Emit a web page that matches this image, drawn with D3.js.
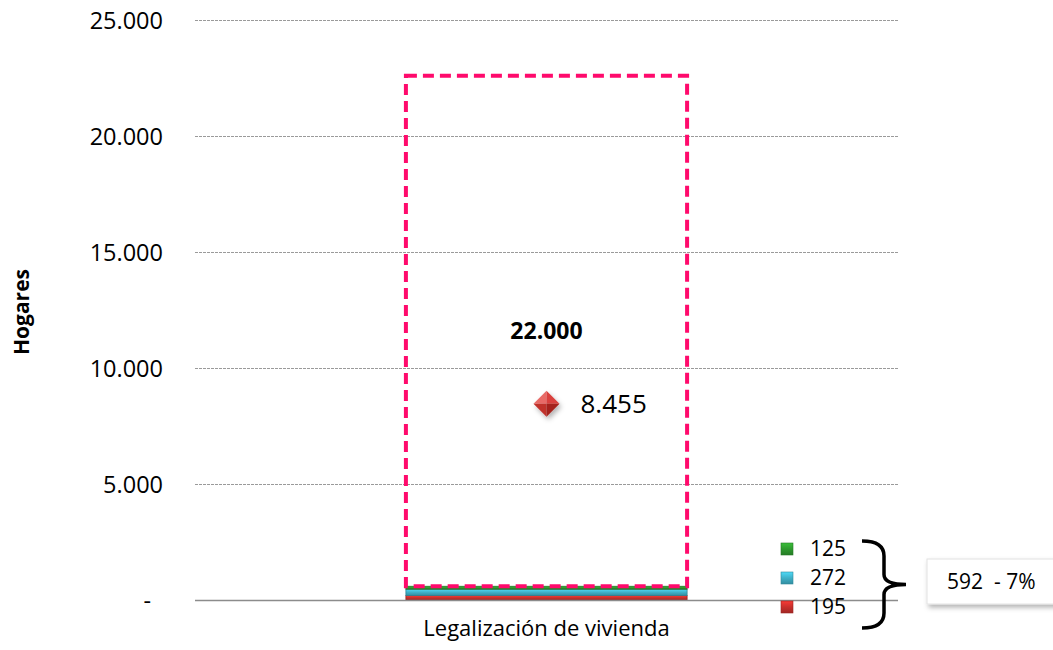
<!DOCTYPE html>
<html>
<head>
<meta charset="utf-8">
<script src="https://cdn.jsdelivr.net/npm/d3@7"></script>
<style>
  body { margin: 0; background: #fff; }
  text { font-family: "Open Sans", "Liberation Sans", sans-serif; fill: #000; }
</style>
</head>
<body>
<svg id="chart" width="1053" height="650"></svg>
<script>
// data
var categories = ['Legalización de vivienda'];
var segmentNames = ['Rojo', 'Azul', 'Verde', 'Meta'];
var segmentValues = [195, 272, 125, 22000];
var segmentColors = ['#c8302c', '#3fb0c8', '#2f9a2f', 'none'];
var markerValue = 8455;
var legendValues = [125, 272, 195];
var legendColors = ['#2f9a2f', '#3fb0c8', '#c8302c'];
var summaryLabel = '592  - 7%';
var yTicks = [0, 5000, 10000, 15000, 20000, 25000];

var svg = d3.select('#chart');
var width = +svg.attr('width');
var height = +svg.attr('height');

var padding = { top: 20, right: 155, bottom: 50, left: 195 };

var loc = d3.formatLocale({ decimal: ',', thousands: '.', grouping: [3], currency: ['$', ''] });
var fmt = loc.format(',.0f');

var xScale = d3.scaleBand()
                .domain(categories)
                .range([padding.left, width - padding.right])
                .paddingInner(0.4286)
                .paddingOuter(0.4286);

var yScale = d3.scaleLinear()
                .domain([0, 25000])
                .range([height - padding.bottom, padding.top]);

var defs = svg.append('defs');

function addGrad(id, c) {
    var g = defs.append('linearGradient').attr('id', id)
                .attr('x1', 0).attr('y1', 0).attr('x2', 0).attr('y2', 1);
    g.append('stop').attr('offset', '0%').attr('stop-color', d3.color(c).brighter(0.6));
    g.append('stop').attr('offset', '50%').attr('stop-color', c);
    g.append('stop').attr('offset', '100%').attr('stop-color', d3.color(c).darker(0.6));
}
segmentColors.forEach((c, i) => { if (c !== 'none') addGrad('seg' + i, c); });
legendColors.forEach((c, i) => addGrad('leg' + i, c));

var shadow = defs.append('filter').attr('id', 'shadow')
                .attr('x', '-30%').attr('y', '-30%').attr('width', '170%').attr('height', '170%');
shadow.append('feDropShadow').attr('dx', 2).attr('dy', 3).attr('stdDeviation', 2.5)
        .attr('flood-color', '#000').attr('flood-opacity', 0.3);

// gridlines
svg.append('g')
    .selectAll('line')
    .data(yTicks.filter(d => d > 0))
    .enter()
    .append('line')
        .attr('x1', padding.left)
        .attr('x2', width - padding.right)
        .attr('y1', d => yScale(d) + 0.5)
        .attr('y2', d => yScale(d) + 0.5)
        .attr('stroke', '#9a9a9a')
        .attr('stroke-width', 1)
        .attr('stroke-dasharray', '3,1');

// y axis labels
var yAxis = d3.axisLeft(yScale)
                .tickValues(yTicks)
                .tickSize(0)
                .tickPadding(32)
                .tickFormat(d => d === 0 ? '-' : fmt(d));

var yG = svg.append('g')
    .attr('transform', `translate(${padding.left}, 0)`)
    .call(yAxis);
yG.select('.domain').remove();
yG.selectAll('text')
    .style('font-family', '"Open Sans", "Liberation Sans", sans-serif')
    .style('font-size', '23.5px')
    .attr('dy', '0.35em');
yG.selectAll('.tick')
    .filter(d => d === 0)
    .select('text')
    .attr('dx', -12);

// stacked bar
var stackData = [];
var base = 0;
segmentValues.forEach((v, i) => {
    stackData.push({ name: segmentNames[i], y0: base, y1: base + v, i: i });
    base += v;
});

var bw = xScale.bandwidth();
var bx = xScale(categories[0]);

svg.append('g')
    .selectAll('rect')
    .data(stackData.filter(d => segmentColors[d.i] !== 'none'))
    .enter()
    .append('rect')
        .attr('x', bx)
        .attr('width', bw)
        .attr('y', d => yScale(d.y1))
        .attr('height', d => yScale(d.y0) - yScale(d.y1))
        .attr('fill', d => `url(#seg${d.i})`)
        .attr('stroke', d => d3.color(segmentColors[d.i]).darker(0.8))
        .attr('stroke-width', 0.8);

// x axis line
svg.append('line')
    .attr('x1', padding.left)
    .attr('x2', width - padding.right)
    .attr('y1', yScale(0) + 0.5)
    .attr('y2', yScale(0) + 0.5)
    .attr('stroke', '#8c8c8c')
    .attr('stroke-width', 1.5);

// dashed target box
var goal = stackData[3];
svg.append('rect')
    .attr('x', bx)
    .attr('width', bw)
    .attr('y', yScale(goal.y1))
    .attr('height', yScale(goal.y0) - yScale(goal.y1))
    .attr('fill', 'none')
    .attr('stroke', '#ff0a6c')
    .attr('stroke-width', 4)
    .attr('stroke-dasharray', '11,6');

svg.append('text')
    .attr('x', bx + bw / 2)
    .attr('y', (yScale(goal.y1) + yScale(goal.y0)) / 2)
    .attr('dy', '0.35em')
    .style('font-size', '23px')
    .style('font-weight', 'bold')
    .style('text-anchor', 'middle')
    .text(fmt(goal.y1 - goal.y0));

// diamond marker
var mx = bx + bw / 2;
var my = yScale(markerValue);
var r = 13;
var mk = svg.append('g').attr('filter', 'url(#shadow)');
var facets = [
    { pts: [[0, 0], [0, -r], [-r, 0]], c: '#e86a66' },
    { pts: [[0, 0], [0, -r], [r, 0]], c: '#d9413c' },
    { pts: [[0, 0], [-r, 0], [0, r]], c: '#c0302c' },
    { pts: [[0, 0], [r, 0], [0, r]], c: '#a5221f' }
];
mk.selectAll('path')
    .data(facets)
    .enter()
    .append('path')
        .attr('d', d => 'M' + d.pts.map(p => [mx + p[0], my + p[1]].join(',')).join('L') + 'Z')
        .attr('fill', d => d.c);

svg.append('text')
    .attr('x', mx + 34)
    .attr('y', my)
    .attr('dy', '0.35em')
    .style('font-size', '26px')
    .text(fmt(markerValue));

// x label
svg.append('text')
    .attr('x', bx + bw / 2)
    .attr('y', height - 14)
    .style('font-size', '22px')
    .style('text-anchor', 'middle')
    .text(categories[0]);

// y title
svg.append('text')
    .attr('transform', 'rotate(-90)')
    .attr('x', -312)
    .attr('y', 29)
    .style('font-size', '21px')
    .style('font-weight', 'bold')
    .style('text-anchor', 'middle')
    .text('Hogares');

// small legend with values
var legY = d3.scalePoint().domain(d3.range(legendValues.length)).range([549, 607]);
var leg = svg.append('g')
    .selectAll('g')
    .data(legendValues)
    .enter()
    .append('g')
        .attr('transform', (d, i) => `translate(781, ${legY(i)})`);
leg.append('rect')
    .attr('x', 0).attr('y', -6)
    .attr('width', 12).attr('height', 12)
    .attr('fill', (d, i) => `url(#leg${i})`)
    .attr('stroke', (d, i) => d3.color(legendColors[i]).darker(0.7))
    .attr('stroke-width', 0.6);
leg.append('text')
    .attr('x', 29)
    .attr('dy', '0.35em')
    .style('font-size', '21px')
    .text(d => d);

// brace
var bTop = 541, bBot = 628, bMid = (bTop + bBot) / 2;
svg.append('path')
    .attr('d', `M862,${bTop} Q884,${bTop} 884,${bTop + 15} L884,${bMid - 10} Q884,${bMid} 906,${bMid}` +
               ` Q884,${bMid} 884,${bMid + 10} L884,${bBot - 15} Q884,${bBot} 862,${bBot}`)
    .attr('fill', 'none')
    .attr('stroke', '#000')
    .attr('stroke-width', 3.5);

// summary box
svg.append('rect')
    .attr('x', 927)
    .attr('y', 559)
    .attr('width', 135)
    .attr('height', 45)
    .attr('fill', '#fff')
    .attr('stroke', '#e2e2e2')
    .attr('filter', 'url(#shadow)');
svg.append('text')
    .attr('x', 947)
    .attr('y', 582)
    .attr('dy', '0.35em')
    .style('font-size', '21px')
    .style('white-space', 'pre')
    .text(summaryLabel);
</script>
</body>
</html>
